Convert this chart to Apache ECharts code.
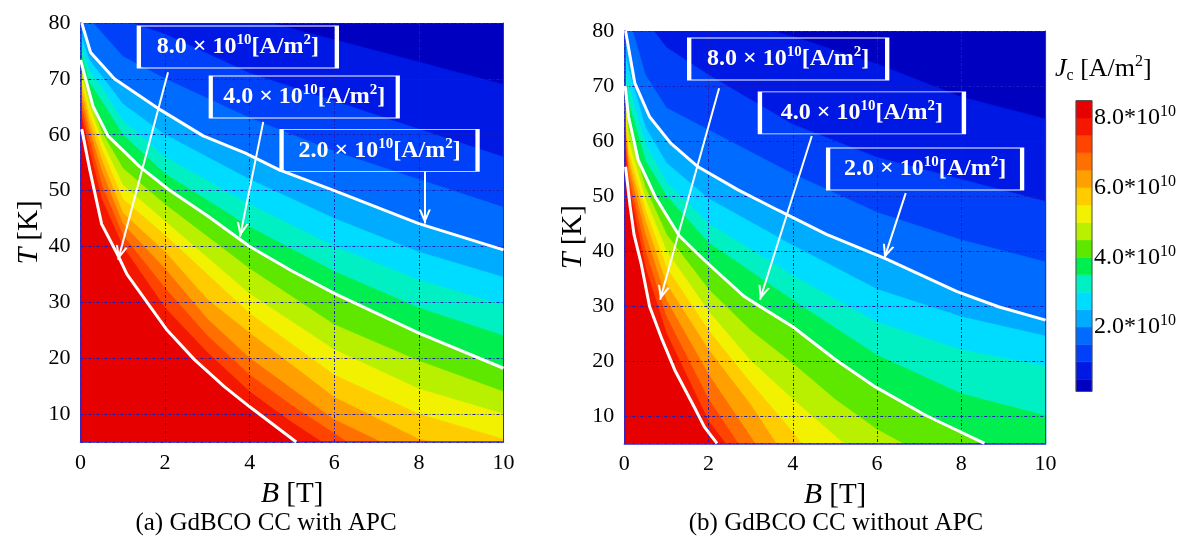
<!DOCTYPE html>
<html>
<head>
<meta charset="utf-8">
<script src="https://cdn.jsdelivr.net/npm/echarts@6/dist/echarts.min.js"></script>
<style>
  html, body { margin: 0; padding: 0; background: #fff; }
  #main { width: 1187px; height: 550px; }
</style>
</head>
<body>
<div id="main"></div>
<script>
// axis ranges (B in T, T in K) and colour scale limits (Jc in 10^10 A/m^2)
var bRange = [0, 10];
var tRange = [5, 80];
var jcRange = [0.15, 8.5];
var cbTicks = [2, 4, 6, 8];

// filled contour levels, and the three levels drawn as white lines
var levels = [0.5, 1.0, 1.5, 2.0, 2.5, 3.0, 3.5, 4.0, 4.5, 5.0, 5.5, 6.0, 6.5, 7.0, 7.5, 8.0];
var lineLevels = [8.0, 4.0, 2.0];
var lineLabels = ['8.0', '4.0', '2.0'];

// iso-lines, one per level, points [B, T]
var isoA = [
  [[4.5, 80], [6, 77], [8, 73], [10, 69]],
  [[1.2, 80], [2, 78], [4, 71], [6, 66], [8, 61], [10, 56]],
  [[0.3, 80], [1, 74], [2, 70], [4, 63], [6, 57], [8, 52], [10, 47]],
  [[0.03, 80], [0.24, 74.7], [0.8, 70], [1.9, 64.4], [2.9, 59.8], [3.9, 56.7], [4.7, 53.7], [6, 50], [8, 44.1], [10, 39.4]],
  [[0, 78.2], [0.2, 73.5], [0.5, 70.5], [1, 65.5], [2, 60], [4, 52], [6, 45], [8, 39], [10, 34.5]],
  [[0, 76.5], [0.2, 71.5], [0.5, 68.5], [1, 62.5], [2, 56], [4, 47.5], [6, 40], [8, 34], [10, 29.5]],
  [[0, 74.8], [0.2, 69.5], [0.5, 66], [1, 60], [2, 53], [4, 43.5], [6, 35.5], [8, 29], [10, 24]],
  [[0, 73.4], [0.3, 65], [0.65, 59.8], [1.4, 54.3], [2.1, 50.1], [3, 45.5], [4, 40], [5, 35.6], [6, 31.6], [8, 24.5], [10, 18.2]],
  [[0, 72.4], [0.2, 66.5], [0.5, 60.5], [1, 54], [2, 47.5], [4, 36], [6, 26], [8, 19.5], [10, 14]],
  [[0, 71.3], [0.2, 65.3], [0.5, 59], [1, 51], [2, 44.5], [4, 31.5], [6, 21.5], [8, 14.5], [10, 10]],
  [[0, 70], [0.2, 64], [0.5, 57.5], [1, 48.5], [2, 42], [4, 28], [6, 17], [8, 10], [10, 5.5]],
  [[0, 68.5], [0.2, 62.5], [0.5, 55.5], [1, 46], [2, 39], [3, 30.5], [4, 24.5], [6, 13], [8, 5.5], [8.3, 5]],
  [[0, 67], [0.2, 61], [0.5, 53.5], [1, 44], [2, 36], [3, 27], [4, 20], [6, 9], [7.1, 5]],
  [[0, 65.5], [0.2, 59.5], [0.5, 51], [1, 42], [2, 32.5], [3, 24], [4, 17], [5, 11.5], [6, 6.5], [6.3, 5]],
  [[0, 64], [0.2, 57.5], [0.5, 48.5], [1, 40], [2, 29], [3, 21], [4, 14], [5, 8.5], [5.7, 5]],
  [[0.03, 61], [0.22, 53.7], [0.5, 44], [0.9, 38.2], [1.1, 35], [2.05, 25], [2.7, 19.7], [3.4, 14.9], [4, 11.3], [5.1, 5]]
];

// iso-lines
var isoB = [
  [[3.5, 80], [4, 79], [6, 74], [8, 68], [10, 64]],
  [[0.7, 80], [1, 77], [2, 72], [4, 63], [6, 57], [8, 53], [10, 49]],
  [[0.2, 80], [0.5, 72], [1, 66], [2, 62], [4, 54], [6, 47], [8, 42], [10, 38]],
  [[0.03, 80], [0.25, 70.5], [0.6, 64.4], [1.1, 59.6], [1.75, 55.3], [2.7, 51.1], [3.65, 47.4], [4.8, 43], [6.2, 38.6], [7.9, 32.6], [8.9, 29.8], [10, 27.4]],
  [[0, 76.5], [0.1, 73], [0.5, 62.5], [1, 56], [2, 49.5], [4, 41], [6, 33], [8, 28], [10, 24.5]],
  [[0, 73.5], [0.1, 70], [0.5, 59.5], [1, 52.5], [2, 45], [4, 35.5], [6, 27], [8, 22], [10, 19]],
  [[0, 71.5], [0.1, 67], [0.5, 56.5], [1, 50], [2, 41.5], [4, 31], [6, 21], [8, 14], [10, 10]],
  [[0.02, 70], [0.1, 64.4], [0.33, 56.5], [0.73, 49.9], [1.3, 42.8], [1.9, 38.3], [2.85, 31.7], [3.2, 30], [4, 26.2], [5, 20.3], [5.95, 15.3], [7.15, 10.1], [8.55, 5]],
  [[0, 68.8], [0.1, 62], [0.5, 51.5], [1, 43], [2, 33], [3, 25.5], [4, 19.5], [5, 13], [6, 7.5], [6.6, 5]],
  [[0, 67.5], [0.1, 60], [0.5, 49.5], [1, 40], [2, 29], [3, 20], [4, 13], [5.2, 5]],
  [[0, 66], [0.1, 58], [0.5, 47.5], [1, 37], [2, 25.5], [3, 16], [4, 7], [4.2, 5]],
  [[0, 65], [0.1, 56.5], [0.5, 45.5], [1, 34], [2, 22], [3, 12], [3.6, 5]],
  [[0, 63.5], [0.1, 55], [0.5, 43], [1, 31], [2, 17.5], [3.1, 5]],
  [[0, 62], [0.1, 53.5], [0.5, 40], [1, 28], [2, 13], [2.7, 5]],
  [[0, 60], [0.1, 52], [0.5, 37], [1, 25], [2, 9], [2.4, 5]],
  [[0.03, 55.3], [0.14, 48], [0.23, 43], [0.4, 37.7], [0.6, 29.9], [0.9, 23.8], [1.2, 18.3], [1.7, 11], [1.9, 8], [2.2, 5]]
];

// colour of each band: below the first level, then one per level
var bandColors = [
  '#0000c0', '#0018e4', '#0040f8', '#006cff', '#00acff', '#00dcff', '#00f0c4', '#00ee50',
  '#5ee800', '#b8f000', '#f2f200', '#ffcc00', '#ffa000', '#ff7000', '#ff4400', '#f41800', '#e60000'
];

var serif = '"Liberation Serif", "Times New Roman", serif';
var gridColor = '#1c1cb8';
var frameColor = '#2a2ad4';

// annotation layout per panel, in data units: box centre, box size (px), arrow tail, arrow tip
var annotA = [
  { box: [3.72, 75.7], size: [198, 42], tail: [2.07, 71.2], tip: [0.89, 37.6] },
  { box: [5.29, 66.75], size: [187, 42], tail: [4.32, 62.3], tip: [3.77, 41.75] },
  { box: [7.07, 57.2], size: [196, 42], tail: [8.14, 53.4], tip: [8.14, 44.1] }
];
var annotB = [
  { box: [3.89, 74.9], size: [198, 42], tail: [2.25, 69.6], tip: [0.85, 31.1] },
  { box: [5.64, 65.1], size: [204, 42], tail: [4.45, 60.9], tip: [3.22, 31.1] },
  { box: [7.14, 54.9], size: [194, 42], tail: [6.68, 50.5], tip: [6.17, 38.6] }
];

// open arrow head, tip at the centre of its box
var chevron = 'path://M5,0L5.01,0L5,0.01Z M0,20L5,10L10,20L8.2,20L5,13.6L1.8,20Z';

function region(line) {
  var pts = line.slice();
  var first = pts[0], last = pts[pts.length - 1];
  if (last[1] > tRange[0] + 0.01) pts.push([bRange[1], tRange[0]]);
  pts.push([bRange[0], tRange[0]]);
  if (first[1] >= tRange[1] - 0.01) pts.push([bRange[0], tRange[1]]);
  return pts;
}

function fillSeries(iso, gi) {
  var full = [[bRange[0], tRange[0]], [bRange[1], tRange[0]], [bRange[1], tRange[1]], [bRange[0], tRange[1]]];
  var polys = [full].concat(iso.map(region));
  return {
    type: 'custom',
    xAxisIndex: gi,
    yAxisIndex: gi,
    z: 1,
    silent: true,
    clip: true,
    data: [jcRange[0]].concat(levels),
    renderItem: function(params, api) {
      var i = params.dataIndex;
      var pts = polys[i].map(function(p) { return api.coord(p); });
      return {
        type: 'polygon',
        shape: { points: pts },
        style: { fill: bandColors[i], stroke: bandColors[i], lineWidth: 0.6 }
      };
    }
  };
}

var boxRich = {
  n: { color: '#fff', fontFamily: serif, fontWeight: 'bold', fontSize: 24, lineHeight: 28 },
  s: { color: '#fff', fontFamily: serif, fontWeight: 'bold', fontSize: 15, lineHeight: 16, verticalAlign: 'top' }
};

function lineSeries(iso, gi, annot) {
  return lineLevels.map(function(lv, k) {
    var a = annot[k];
    return {
      type: 'line',
      xAxisIndex: gi,
      yAxisIndex: gi,
      z: 4,
      silent: true,
      data: iso[levels.indexOf(lv)],
      symbol: 'none',
      showSymbol: false,
      lineStyle: { color: '#fff', width: 3 },
      markPoint: {
        silent: true,
        animation: false,
        symbol: 'rect',
        symbolSize: a.size,
        itemStyle: { color: 'rgba(0,0,0,0)', borderColor: '#fff', borderWidth: 2 },
        label: {
          show: true,
          position: 'inside',
          formatter: '{n|' + lineLabels[k] + ' \u00d7 10}{s|10}{n|[A/m}{s|2}{n|]}',
          rich: boxRich
        },
        data: [{ coord: a.box }]
      },
      markLine: {
        silent: true,
        animation: false,
        symbol: ['none', chevron],
        symbolSize: [12, 28],
        label: { show: false },
        lineStyle: { color: '#fff', width: 2, type: 'solid' },
        data: [[{ coord: a.tail }, { coord: a.tip }]]
      }
    };
  });
}

function xAxisFor(gi) {
  return {
    gridIndex: gi, type: 'value', min: bRange[0], max: bRange[1], interval: 2, z: 3,
    axisLine: { show: true, onZero: false, lineStyle: { color: frameColor, width: 1.5 } },
    axisTick: { show: false },
    axisLabel: { color: '#000', fontFamily: serif, fontSize: 22, margin: 10 },
    splitLine: { show: true, lineStyle: { color: gridColor, width: 1, type: [3, 2, 1, 2] } },
    name: '{i|B} [T]',
    nameLocation: 'middle',
    nameGap: 28,
    nameTextStyle: {
      color: '#000', fontFamily: serif, fontSize: 29,
      rich: { i: { fontFamily: serif, fontSize: 30, fontStyle: 'italic', color: '#000' } }
    }
  };
}

function yAxisFor(gi) {
  return {
    gridIndex: gi, type: 'value', min: tRange[0], max: tRange[1],
    minInterval: 10, maxInterval: 10, splitNumber: 8, z: 3,
    axisLine: { show: true, onZero: false, lineStyle: { color: frameColor, width: 1.5 } },
    axisTick: { show: false },
    axisLabel: { color: '#000', fontFamily: serif, fontSize: 22, margin: 10, showMinLabel: false },
    splitLine: { show: true, lineStyle: { color: gridColor, width: 1, type: [3, 2, 1, 2] } },
    name: '{i|T} [K]',
    nameLocation: 'middle',
    nameRotate: 90,
    nameGap: 36,
    nameTextStyle: {
      color: '#000', fontFamily: serif, fontSize: 29,
      rich: { i: { fontFamily: serif, fontSize: 30, fontStyle: 'italic', color: '#000' } }
    }
  };
}

function rightFrame(gi) {
  return {
    gridIndex: gi, type: 'value', min: tRange[0], max: tRange[1], position: 'right', z: 3,
    axisLine: { show: true, onZero: false, lineStyle: { color: frameColor, width: 1 } },
    axisTick: { show: false }, axisLabel: { show: false }, splitLine: { show: false }
  };
}

var bandEdges = [jcRange[0]].concat(levels).concat([jcRange[1]]);

var chart = echarts.init(document.getElementById('main'), null, { renderer: 'canvas' });
chart.setOption({
  animation: false,
  backgroundColor: '#fff',
  grid: [
    { left: 80.5, top: 23, width: 423, height: 419 },
    { left: 624.3, top: 31, width: 421.3, height: 412.3 },
    { left: 1076, top: 100.6, width: 16, height: 296.1 }
  ],
  xAxis: [
    xAxisFor(0),
    xAxisFor(1),
    { gridIndex: 2, type: 'value', min: 0, max: 1, show: false }
  ],
  yAxis: [
    yAxisFor(0),
    yAxisFor(1),
    {
      gridIndex: 2, type: 'value', min: 0, max: jcRange[1], interval: 2, position: 'right',
      axisLine: { show: false }, axisTick: { show: false }, splitLine: { show: false },
      axisLabel: {
        margin: 2,
        formatter: function(v) {
          if (cbTicks.indexOf(Math.round(v * 100) / 100) < 0) return '';
          return '{n|' + v.toFixed(1) + '*10}{s|10}';
        },
        rich: {
          n: { color: '#000', fontFamily: serif, fontSize: 24, lineHeight: 28 },
          s: { color: '#000', fontFamily: serif, fontSize: 16, lineHeight: 14, verticalAlign: 'top' }
        }
      }
    },
    rightFrame(0),
    rightFrame(1)
  ],
  series: [
    fillSeries(isoA, 0),
    fillSeries(isoB, 1)
  ].concat(lineSeries(isoA, 0, annotA)).concat(lineSeries(isoB, 1, annotB)).concat([
    {
      // colour bar: one rect per band, then the outline
      type: 'custom',
      xAxisIndex: 2,
      yAxisIndex: 2,
      silent: true,
      data: bandColors.concat(['outline']).map(function(c, i) { return i; }),
      renderItem: function(params, api) {
        var i = params.dataIndex;
        if (i === bandColors.length) {
          var q0 = api.coord([0, jcRange[1]]);
          var q1 = api.coord([1, jcRange[0]]);
          return {
            type: 'rect',
            shape: { x: q0[0], y: q0[1], width: q1[0] - q0[0], height: q1[1] - q0[1] },
            style: { fill: null, stroke: '#505050', lineWidth: 1 }
          };
        }
        var p0 = api.coord([0, bandEdges[i + 1]]);
        var p1 = api.coord([1, bandEdges[i]]);
        return {
          type: 'rect',
          shape: { x: p0[0], y: p0[1], width: p1[0] - p0[0], height: p1[1] - p0[1] },
          style: { fill: bandColors[i], stroke: bandColors[i], lineWidth: 0.5 }
        };
      }
    }
  ]),
  graphic: [
    {
      type: 'text', left: 1055, top: 54,
      style: {
        text: '{j|J}{c|c}{n| [A/m}{s|2}{n|]}',
        rich: {
          j: { fontFamily: serif, fontSize: 26, fontStyle: 'italic', fill: '#000', lineHeight: 30 },
          c: { fontFamily: serif, fontSize: 16, fill: '#000', lineHeight: 14, verticalAlign: 'bottom' },
          n: { fontFamily: serif, fontSize: 26, fill: '#000', lineHeight: 30 },
          s: { fontFamily: serif, fontSize: 16, fill: '#000', lineHeight: 14, verticalAlign: 'top' }
        }
      }
    },
    {
      type: 'text', x: 266, y: 523,
      style: { text: '(a) GdBCO CC with APC', font: '25px ' + serif, fill: '#000', align: 'center', verticalAlign: 'middle' }
    },
    {
      type: 'text', x: 836, y: 523,
      style: { text: '(b) GdBCO CC without APC', font: '25px ' + serif, fill: '#000', align: 'center', verticalAlign: 'middle' }
    }
  ]
});
window.addEventListener('resize', function() { chart.resize(); });
</script>
</body>
</html>
